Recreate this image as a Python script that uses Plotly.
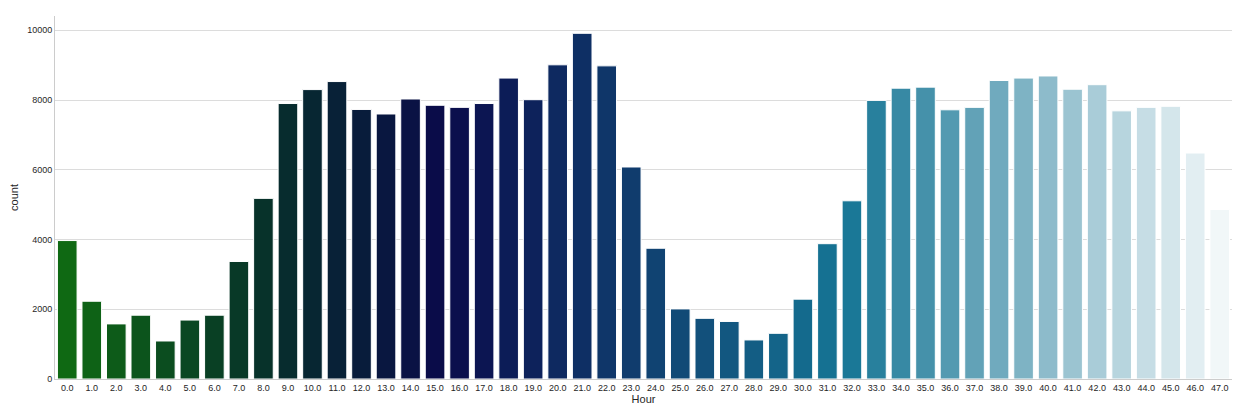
import colorsys
import plotly.graph_objects as go

hours = [f"{h:.1f}" for h in range(48)]
counts = [3970, 2230, 1580, 1830, 1090, 1690, 1830, 3370, 5180, 7900,
          8300, 8530, 7730, 7600, 8030, 7850, 7790, 7900, 8630, 8010,
          9010, 9914, 8980, 6080, 3750, 2010, 1740, 1650, 1120, 1310,
          2290, 3880, 5110, 7990, 8340, 8370, 7720, 7790, 8560, 8630,
          8690, 8310, 8440, 7690, 7790, 7820, 6480, 4860]

x_title = "Hour"
y_title = "count"
y_ticks = [0, 2000, 4000, 6000, 8000, 10000]
y_ticklabels = ["0", "2000", "4000", "6000", "8000", "10000"]


def ocean(x):
    r = min(max(3 * x - 2, 0), 1)
    g = min(max(abs((3 * x - 1) / 2), 0), 1)
    b = min(max(x, 0), 1)
    return r, g, b


def desaturate(rgb, prop=0.75):
    h, l, s = colorsys.rgb_to_hls(*rgb)
    return colorsys.hls_to_rgb(h, l, s * prop)


n = len(hours)
colors = []
for i in range(n):
    x = (i + 1) / (n + 1)
    r, g, b = desaturate(ocean(x))
    colors.append(f"rgb({round(r*255)},{round(g*255)},{round(b*255)})")

fig = go.Figure(go.Bar(
    x=hours, y=counts,
    marker=dict(color=colors, line=dict(color="white", width=1)),
))

# page body has an 8px default margin, so the figure is sized 8px smaller
fig.update_layout(
    width=1248, height=404,
    margin=dict(l=47, r=24, t=8, b=33),
    paper_bgcolor="white", plot_bgcolor="white",
    bargap=0.2,
    font=dict(family="Liberation Sans, Arial, sans-serif", color="#262626", size=9),
    showlegend=False,
)
fig.update_xaxes(
    type="category", range=[-0.5, n - 0.5], automargin=False,
    showline=True, linecolor="#cccccc", linewidth=1,
    showgrid=False, ticks="", tickfont=dict(size=9, color="#262626"),
    title=dict(text=x_title, font=dict(size=11, color="#262626"), standoff=3),
)
fig.update_yaxes(
    range=[0, 10410], tickvals=y_ticks, ticktext=y_ticklabels, automargin=False,
    showline=True, linecolor="#cccccc", linewidth=1,
    showgrid=True, gridcolor="#dcdcdc", gridwidth=1, zeroline=False,
    ticks="", tickfont=dict(size=9, color="#262626"),
    title=dict(text=y_title, font=dict(size=11, color="#262626"), standoff=6),
)

fig.write_html("out.html")
